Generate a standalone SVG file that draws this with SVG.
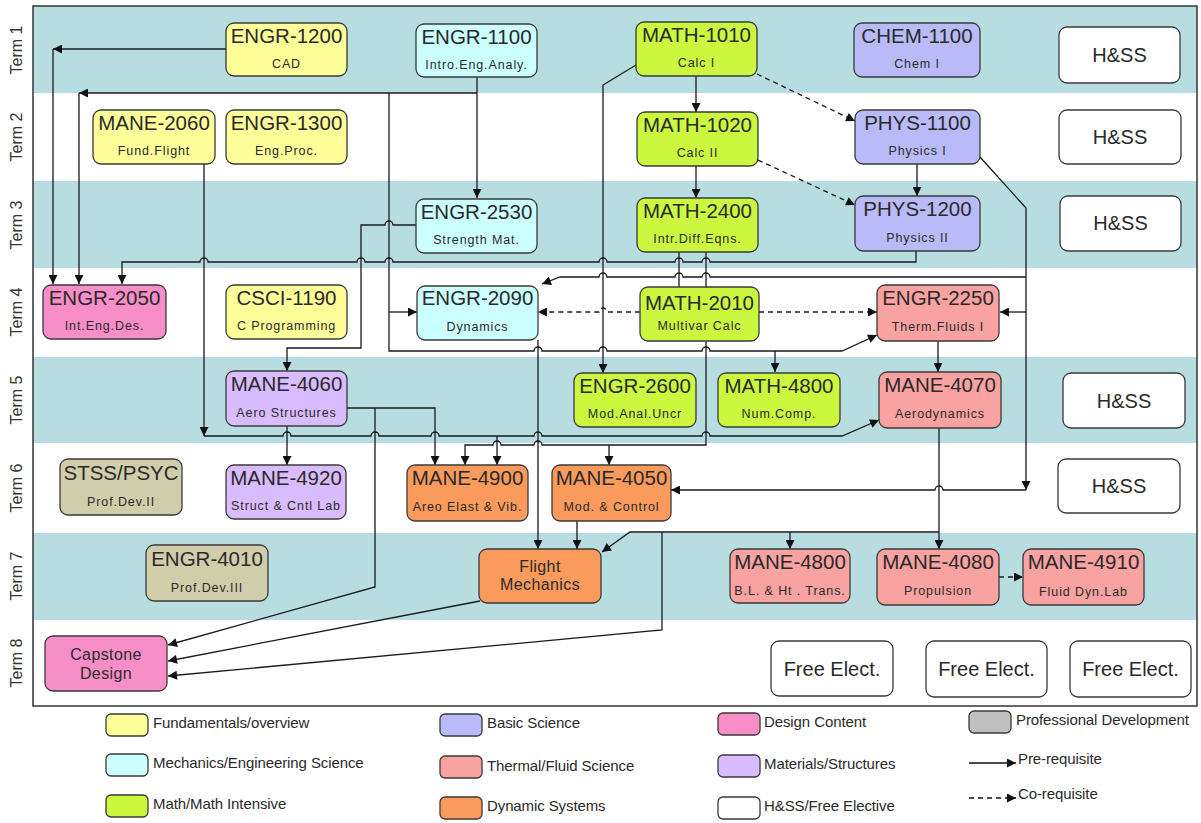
<svg xmlns="http://www.w3.org/2000/svg" width="1201" height="823" viewBox="0 0 1201 823">
<defs>
<style>
.band{fill:#b7dde0}
.n rect{stroke:#3a3a3a;stroke-width:1.3}
.y{fill:#ffff99}.c{fill:#ccffff}.g{fill:#ccf73f}.b{fill:#b9baf8}.w{fill:#ffffff}.p{fill:#f78ec8}.s{fill:#f8a2a2}.v{fill:#d8bcff}.o{fill:#fb9b5b}.d{fill:#d0cdab}.gr{fill:#c0c0c0}
text{font-family:"Liberation Sans",Arial,sans-serif;fill:#2a2a2a}
.code{font-size:20.5px;text-anchor:middle}
.sub{font-size:12.5px;text-anchor:middle;letter-spacing:0.9px}
.big{font-size:20px;text-anchor:middle}
.two{font-size:16px;text-anchor:middle;letter-spacing:0.4px}
.term{font-size:16px;fill:#333;text-anchor:middle}
.leg{font-size:15px;letter-spacing:-0.1px}
#conn path{fill:none;stroke:#1a1a1a;stroke-width:1.3}
#conn .dash{stroke-dasharray:5,4}
</style>
<marker id="a" viewBox="0 0 10 10" refX="10" refY="5" markerWidth="11" markerHeight="9" orient="auto" markerUnits="userSpaceOnUse"><path d="M0,0 L10,5 L0,10 z" fill="#111"/></marker>
</defs>
<rect width="1201" height="823" fill="#ffffff"/>
<g id="bands">
<rect class="band" x="33" y="6" width="1164" height="87"/>
<rect class="band" x="33" y="181" width="1164" height="87"/>
<rect class="band" x="33" y="357" width="1164" height="86"/>
<rect class="band" x="33" y="533" width="1164" height="87"/>
<rect x="33" y="6" width="1164" height="700" fill="none" stroke="#333" stroke-width="1.5"/>
</g>
<g id="terms">
<text class="term" transform="translate(22,50) rotate(-90)">Term 1</text>
<text class="term" transform="translate(22,137) rotate(-90)">Term 2</text>
<text class="term" transform="translate(22,225) rotate(-90)">Term 3</text>
<text class="term" transform="translate(22,312) rotate(-90)">Term 4</text>
<text class="term" transform="translate(22,400) rotate(-90)">Term 5</text>
<text class="term" transform="translate(22,488) rotate(-90)">Term 6</text>
<text class="term" transform="translate(22,576) rotate(-90)">Term 7</text>
<text class="term" transform="translate(22,663) rotate(-90)">Term 8</text>
</g>
<g id="conn">
<path d="M226,49 H53" marker-end="url(#a)"/>
<path d="M53,49 V284" marker-end="url(#a)"/>
<path d="M477,77 V198" marker-end="url(#a)"/>
<path d="M477,93 H79" marker-end="url(#a)"/>
<path d="M79,93 V284" marker-end="url(#a)"/>
<path d="M389,93 V351 H534 a4,4 0 0 1 8,0 H599 a4,4 0 0 1 8,0 H702 a4,4 0 0 1 8,0 H842 L877,335" marker-end="url(#a)"/>
<path d="M389,312 H417" marker-end="url(#a)"/>
<path d="M775,351 V372" marker-end="url(#a)"/>
<path d="M416,225 H393 a4,4 0 0 0 -8,0 H361 V348 H287 V371" marker-end="url(#a)"/>
<path d="M916,251 V262 H710 a4,4 0 0 0 -8,0 H683 a4,4 0 0 0 -8,0 H607 a4,4 0 0 0 -8,0 H393 a4,4 0 0 0 -8,0 H365 a4,4 0 0 0 -8,0 H208 a4,4 0 0 0 -8,0 H122 V284" marker-end="url(#a)"/>
<path d="M636,65 L603,85 V373" marker-end="url(#a)"/>
<path d="M696,76 V112" marker-end="url(#a)"/>
<path d="M696,166 V198" marker-end="url(#a)"/>
<path class="dash" d="M757,74 L855,121" marker-end="url(#a)"/>
<path class="dash" d="M758,160 L855,205" marker-end="url(#a)"/>
<path d="M917,164 V196" marker-end="url(#a)"/>
<path d="M980,157 L1026,208 V490" marker-end="url(#a)"/>
<path d="M1026,490 H943 a4,4 0 0 0 -8,0 H671" marker-end="url(#a)"/>
<path d="M1026,312 H1000" marker-end="url(#a)"/>
<path d="M1026,277 H710 a4,4 0 0 0 -8,0 H683 a4,4 0 0 0 -8,0 H607 a4,4 0 0 0 -8,0 H560 L542,284" marker-end="url(#a)"/>
<path d="M679,252 V287"/>
<path d="M706,252 V287"/>
<path d="M706,341 V445 H542 a4,4 0 0 0 -8,0 H501 a4,4 0 0 0 -8,0 H465 V465" marker-end="url(#a)"/>
<path d="M609,445 V465" marker-end="url(#a)"/>
<path d="M204,164 V436" marker-end="url(#a)"/>
<path d="M204,436 H283 a4,4 0 0 1 8,0 H371 a4,4 0 0 1 8,0 H431 a4,4 0 0 1 8,0 H534 a4,4 0 0 1 8,0 H702 a4,4 0 0 1 8,0 H842 L879,420" marker-end="url(#a)"/>
<path d="M497,436 V465" marker-end="url(#a)"/>
<path d="M347,408 H435 V465" marker-end="url(#a)"/>
<path d="M375,408 V587 L168,645" marker-end="url(#a)"/>
<path d="M287,426 V465" marker-end="url(#a)"/>
<path d="M538,340 V549" marker-end="url(#a)"/>
<path d="M577,521 V549" marker-end="url(#a)"/>
<path d="M939,428 V549" marker-end="url(#a)"/>
<path d="M939,532 H630 L602,552" marker-end="url(#a)"/>
<path d="M790,532 V549" marker-end="url(#a)"/>
<path d="M662,532 V630 L168,676" marker-end="url(#a)"/>
<path d="M480,601 L168,661" marker-end="url(#a)"/>
<path class="dash" d="M640,312 H607 a4,4 0 0 0 -8,0 H538" marker-end="url(#a)"/>
<path class="dash" d="M759,312 H877" marker-end="url(#a)"/>
<path d="M938,341 V372" marker-end="url(#a)"/>
<path class="dash" d="M999,577 H1023" marker-end="url(#a)"/>
</g>
<g id="ENGR-1200" class="n"><rect class="y" x="226" y="23" width="121" height="53" rx="8"/><text class="code" x="286.5" y="43">ENGR-1200</text><text class="sub" x="286.5" y="68">CAD</text></g>
<g id="ENGR-1100" class="n"><rect class="c" x="416" y="24" width="121" height="53" rx="8"/><text class="code" x="476.5" y="44">ENGR-1100</text><text class="sub" x="476.5" y="69">Intro.Eng.Analy.</text></g>
<g id="MATH-1010" class="n"><rect class="g" x="636" y="22" width="121" height="54" rx="8"/><text class="code" x="696.5" y="42">MATH-1010</text><text class="sub" x="696.5" y="67">Calc I</text></g>
<g id="CHEM-1100" class="n"><rect class="b" x="854" y="23" width="126" height="54" rx="8"/><text class="code" x="917" y="43">CHEM-1100</text><text class="sub" x="917" y="68">Chem I</text></g>
<g id="HSS-1" class="n"><rect class="w" x="1059" y="27" width="121" height="56" rx="8"/><text class="big" x="1119.5" y="62">H&amp;SS</text></g>
<g id="MANE-2060" class="n"><rect class="y" x="93" y="110" width="122" height="54" rx="8"/><text class="code" x="154" y="130">MANE-2060</text><text class="sub" x="154" y="155">Fund.Flight</text></g>
<g id="ENGR-1300" class="n"><rect class="y" x="226" y="110" width="121" height="54" rx="8"/><text class="code" x="286.5" y="130">ENGR-1300</text><text class="sub" x="286.5" y="155">Eng.Proc.</text></g>
<g id="MATH-1020" class="n"><rect class="g" x="637" y="112" width="121" height="54" rx="8"/><text class="code" x="697.5" y="132">MATH-1020</text><text class="sub" x="697.5" y="157">Calc II</text></g>
<g id="PHYS-1100" class="n"><rect class="b" x="855" y="110" width="125" height="54" rx="8"/><text class="code" x="917.5" y="130">PHYS-1100</text><text class="sub" x="917.5" y="155">Physics I</text></g>
<g id="HSS-2" class="n"><rect class="w" x="1059" y="110" width="122" height="54" rx="8"/><text class="big" x="1120" y="144">H&amp;SS</text></g>
<g id="ENGR-2530" class="n"><rect class="c" x="416" y="199" width="121" height="54" rx="8"/><text class="code" x="476.5" y="219">ENGR-2530</text><text class="sub" x="476.5" y="244">Strength Mat.</text></g>
<g id="MATH-2400" class="n"><rect class="g" x="637" y="198" width="121" height="54" rx="8"/><text class="code" x="697.5" y="218">MATH-2400</text><text class="sub" x="697.5" y="243">Intr.Diff.Eqns.</text></g>
<g id="PHYS-1200" class="n"><rect class="b" x="855" y="196" width="125" height="55" rx="8"/><text class="code" x="917.5" y="216">PHYS-1200</text><text class="sub" x="917.5" y="242">Physics II</text></g>
<g id="HSS-3" class="n"><rect class="w" x="1060" y="196" width="121" height="55" rx="8"/><text class="big" x="1120.5" y="230">H&amp;SS</text></g>
<g id="ENGR-2050" class="n"><rect class="p" x="43" y="285" width="123" height="54" rx="8"/><text class="code" x="104.5" y="305">ENGR-2050</text><text class="sub" x="104.5" y="330">Int.Eng.Des.</text></g>
<g id="CSCI-1190" class="n"><rect class="y" x="226" y="285" width="121" height="54" rx="8"/><text class="code" x="286.5" y="305">CSCI-1190</text><text class="sub" x="286.5" y="330">C Programming</text></g>
<g id="ENGR-2090" class="n"><rect class="c" x="417" y="286" width="121" height="54" rx="8"/><text class="code" x="477.5" y="305">ENGR-2090</text><text class="sub" x="477.5" y="331">Dynamics</text></g>
<g id="MATH-2010" class="n"><rect class="g" x="640" y="287" width="119" height="54" rx="8"/><text class="code" x="699.5" y="310">MATH-2010</text><text class="sub" x="699.5" y="330">Multivar Calc</text></g>
<g id="ENGR-2250" class="n"><rect class="s" x="877" y="285" width="122" height="56" rx="8"/><text class="code" x="938" y="305">ENGR-2250</text><text class="sub" x="938" y="331">Therm.Fluids I</text></g>
<g id="MANE-4060" class="n"><rect class="v" x="226" y="371" width="121" height="55" rx="8"/><text class="code" x="286.5" y="391">MANE-4060</text><text class="sub" x="286.5" y="417">Aero Structures</text></g>
<g id="ENGR-2600" class="n"><rect class="g" x="574" y="373" width="122" height="54" rx="8"/><text class="code" x="635" y="393">ENGR-2600</text><text class="sub" x="635" y="418">Mod.Anal.Uncr</text></g>
<g id="MATH-4800" class="n"><rect class="g" x="718" y="373" width="122" height="54" rx="8"/><text class="code" x="779" y="393">MATH-4800</text><text class="sub" x="779" y="418">Num.Comp.</text></g>
<g id="MANE-4070" class="n"><rect class="s" x="879" y="372" width="122" height="56" rx="8"/><text class="code" x="940" y="392">MANE-4070</text><text class="sub" x="940" y="418">Aerodynamics</text></g>
<g id="HSS-5" class="n"><rect class="w" x="1063" y="373" width="122" height="55" rx="8"/><text class="big" x="1124" y="408">H&amp;SS</text></g>
<g id="STSS-PSYC" class="n"><rect class="d" x="60" y="459" width="122" height="56" rx="8"/><text class="code" x="121" y="480">STSS/PSYC</text><text class="sub" x="121" y="506">Prof.Dev.II</text></g>
<g id="MANE-4920" class="n"><rect class="v" x="226" y="465" width="120" height="54" rx="8"/><text class="code" x="286" y="485">MANE-4920</text><text class="sub" x="286" y="510">Struct &amp; Cntl Lab</text></g>
<g id="MANE-4900" class="n"><rect class="o" x="407" y="465" width="121" height="56" rx="8"/><text class="code" x="467.5" y="485">MANE-4900</text><text class="sub" x="467.5" y="511">Areo Elast &amp; Vib.</text></g>
<g id="MANE-4050" class="n"><rect class="o" x="552" y="465" width="119" height="56" rx="8"/><text class="code" x="611.5" y="485">MANE-4050</text><text class="sub" x="611.5" y="511">Mod. &amp; Control</text></g>
<g id="HSS-6" class="n"><rect class="w" x="1058" y="459" width="122" height="54" rx="8"/><text class="big" x="1119" y="493">H&amp;SS</text></g>
<g id="ENGR-4010" class="n"><rect class="d" x="146" y="545" width="122" height="56" rx="8"/><text class="code" x="207" y="566">ENGR-4010</text><text class="sub" x="207" y="592">Prof.Dev.III</text></g>
<g id="FlightMechanics" class="n"><rect class="o" x="479" y="549" width="122" height="54" rx="8"/><text class="two" x="540" y="572">Flight</text><text class="two" x="540" y="590">Mechanics</text></g>
<g id="MANE-4800" class="n"><rect class="s" x="730" y="549" width="120" height="54" rx="8"/><text class="code" x="790" y="569">MANE-4800</text><text class="sub" x="790" y="595">B.L. &amp; Ht . Trans.</text></g>
<g id="MANE-4080" class="n"><rect class="s" x="877" y="549" width="122" height="56" rx="8"/><text class="code" x="938" y="569">MANE-4080</text><text class="sub" x="938" y="595">Propulsion</text></g>
<g id="MANE-4910" class="n"><rect class="s" x="1023" y="549" width="121" height="56" rx="8"/><text class="code" x="1083.5" y="569">MANE-4910</text><text class="sub" x="1083.5" y="596">Fluid Dyn.Lab</text></g>
<g id="Capstone" class="n"><rect class="p" x="45" y="636" width="122" height="55" rx="8"/><text class="two" x="106" y="660">Capstone</text><text class="two" x="106" y="679">Design</text></g>
<g id="FreeElect-1" class="n"><rect class="w" x="771" y="641" width="122" height="55" rx="8"/><text class="big" x="832" y="676">Free Elect.</text></g>
<g id="FreeElect-2" class="n"><rect class="w" x="926" y="641" width="121" height="56" rx="8"/><text class="big" x="986.5" y="676">Free Elect.</text></g>
<g id="FreeElect-3" class="n"><rect class="w" x="1070" y="641" width="121" height="56" rx="8"/><text class="big" x="1130.5" y="676">Free Elect.</text></g>
<g id="legend">
<g class="n"><rect class="y" x="106" y="714" width="42" height="22" rx="5"/></g><text class="leg" x="153" y="728">Fundamentals/overview</text>
<g class="n"><rect class="c" x="106" y="754" width="42" height="22" rx="5"/></g><text class="leg" x="153" y="768">Mechanics/Engineering Science</text>
<g class="n"><rect class="g" x="106" y="795" width="42" height="22" rx="5"/></g><text class="leg" x="153" y="809">Math/Math Intensive</text>
<g class="n"><rect class="b" x="440" y="714" width="42" height="22" rx="5"/></g><text class="leg" x="487" y="728">Basic Science</text>
<g class="n"><rect class="s" x="440" y="756" width="42" height="22" rx="5"/></g><text class="leg" x="487" y="771">Thermal/Fluid Science</text>
<g class="n"><rect class="o" x="440" y="797" width="42" height="22" rx="5"/></g><text class="leg" x="487" y="811">Dynamic Systems</text>
<g class="n"><rect class="p" x="718" y="713" width="42" height="22" rx="5"/></g><text class="leg" x="764" y="727">Design Content</text>
<g class="n"><rect class="v" x="718" y="755" width="42" height="22" rx="5"/></g><text class="leg" x="764" y="769">Materials/Structures</text>
<g class="n"><rect class="w" x="718" y="797" width="42" height="22" rx="5"/></g><text class="leg" x="764" y="811">H&amp;SS/Free Elective</text>
<g class="n"><rect class="gr" x="969" y="711" width="42" height="22" rx="5"/></g><text class="leg" x="1016" y="725">Professional Development</text>
<path d="M969,763 H1016" fill="none" stroke="#111" stroke-width="1.3" marker-end="url(#a)"/><text class="leg" x="1018" y="764">Pre-requisite</text>
<path d="M969,798 H1016" fill="none" stroke="#111" stroke-width="1.3" stroke-dasharray="5,4" marker-end="url(#a)"/><text class="leg" x="1018" y="799">Co-requisite</text>
</g>
</svg>
